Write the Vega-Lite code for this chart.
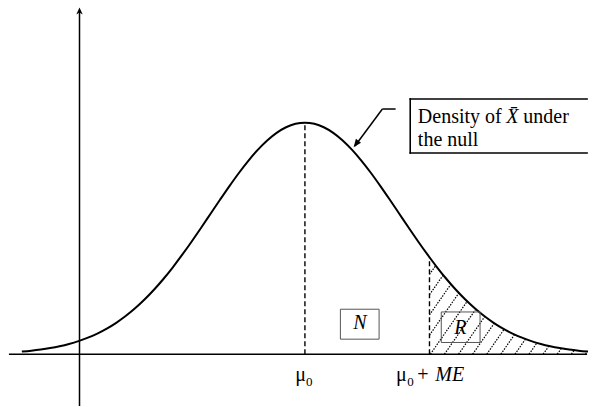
{
  "$schema": "https://vega.github.io/schema/vega-lite/v6.json",
  "width": 592,
  "height": 407,
  "padding": 0,
  "autosize": {"type": "fit", "contains": "padding"},
  "background": "white",
  "config": {"view": {"stroke": null}},
  "datasets": {
    "curve": [
      {"x": -3.0, "y": 0.00443}, {"x": -2.9, "y": 0.00595}, {"x": -2.8, "y": 0.00792}, {"x": -2.7, "y": 0.01042},
      {"x": -2.6, "y": 0.01358}, {"x": -2.5, "y": 0.01753}, {"x": -2.4, "y": 0.02239}, {"x": -2.3, "y": 0.02833},
      {"x": -2.2, "y": 0.03547}, {"x": -2.1, "y": 0.04398}, {"x": -2.0, "y": 0.05399}, {"x": -1.9, "y": 0.06562},
      {"x": -1.8, "y": 0.07895}, {"x": -1.7, "y": 0.09405}, {"x": -1.6, "y": 0.11092}, {"x": -1.5, "y": 0.12952},
      {"x": -1.4, "y": 0.14973}, {"x": -1.3, "y": 0.17137}, {"x": -1.2, "y": 0.19419}, {"x": -1.1, "y": 0.21785},
      {"x": -1.0, "y": 0.24197}, {"x": -0.9, "y": 0.26609}, {"x": -0.8, "y": 0.28969}, {"x": -0.7, "y": 0.31225},
      {"x": -0.6, "y": 0.33322}, {"x": -0.5, "y": 0.35207}, {"x": -0.4, "y": 0.36827}, {"x": -0.3, "y": 0.38139},
      {"x": -0.2, "y": 0.39104}, {"x": -0.1, "y": 0.39695}, {"x": 0.0, "y": 0.39894}, {"x": 0.1, "y": 0.39695},
      {"x": 0.2, "y": 0.39104}, {"x": 0.3, "y": 0.38139}, {"x": 0.4, "y": 0.36827}, {"x": 0.5, "y": 0.35207},
      {"x": 0.6, "y": 0.33322}, {"x": 0.7, "y": 0.31225}, {"x": 0.8, "y": 0.28969}, {"x": 0.9, "y": 0.26609},
      {"x": 1.0, "y": 0.24197}, {"x": 1.1, "y": 0.21785}, {"x": 1.2, "y": 0.19419}, {"x": 1.3, "y": 0.17137},
      {"x": 1.32, "y": 0.16694}, {"x": 1.4, "y": 0.14973}, {"x": 1.5, "y": 0.12952}, {"x": 1.6, "y": 0.11092},
      {"x": 1.7, "y": 0.09405}, {"x": 1.8, "y": 0.07895}, {"x": 1.9, "y": 0.06562}, {"x": 2.0, "y": 0.05399},
      {"x": 2.1, "y": 0.04398}, {"x": 2.2, "y": 0.03547}, {"x": 2.3, "y": 0.02833}, {"x": 2.4, "y": 0.02239},
      {"x": 2.5, "y": 0.01753}, {"x": 2.6, "y": 0.01358}, {"x": 2.7, "y": 0.01042}, {"x": 2.8, "y": 0.00792},
      {"x": 2.9, "y": 0.00595}, {"x": 3.0, "y": 0.00443}
    ],
    "hatch": [
      {"x": 1.32, "y": 0.1373, "x2": 1.4684, "y2": 0.1719},
      {"x": 1.32, "y": 0.1024, "x2": 1.6179, "y2": 0.1719},
      {"x": 1.32, "y": 0.0676, "x2": 1.7674, "y2": 0.1719},
      {"x": 1.32, "y": 0.0327, "x2": 1.9168, "y2": 0.1719},
      {"x": 1.3295, "y": 0, "x2": 2.0663, "y2": 0.1719},
      {"x": 1.4789, "y": 0, "x2": 2.2158, "y2": 0.1719},
      {"x": 1.6284, "y": 0, "x2": 2.3653, "y2": 0.1719},
      {"x": 1.7779, "y": 0, "x2": 2.5147, "y2": 0.1719},
      {"x": 1.9274, "y": 0, "x2": 2.6642, "y2": 0.1719},
      {"x": 2.0768, "y": 0, "x2": 2.8137, "y2": 0.1719},
      {"x": 2.2263, "y": 0, "x2": 2.9632, "y2": 0.1719},
      {"x": 2.3758, "y": 0, "x2": 3.0, "y2": 0.1456},
      {"x": 2.5253, "y": 0, "x2": 3.0, "y2": 0.1108},
      {"x": 2.6747, "y": 0, "x2": 3.0, "y2": 0.0759},
      {"x": 2.8242, "y": 0, "x2": 3.0, "y2": 0.0410},
      {"x": 2.9737, "y": 0, "x2": 3.0, "y2": 0.0061}
    ],
    "solid": [
      {"x": -3.137, "y": 0, "x2": 2.99, "y2": 0},
      {"x": -2.389, "y": -0.0894, "x2": -2.389, "y2": 0.59},
      {"x": 0.821, "y": 0.4225, "x2": 0.961, "y2": 0.4225},
      {"x": 0.821, "y": 0.4225, "x2": 0.53, "y2": 0.3587}
    ],
    "calloutBox": [
      {"x": 1.116, "y": 0.4397, "x2": 2.99, "y2": 0.4397},
      {"x": 1.116, "y": 0.3468, "x2": 2.99, "y2": 0.3468},
      {"x": 1.116, "y": 0.3468, "x2": 1.116, "y2": 0.4397}
    ],
    "dashed": [
      {"x": 0, "y": 0, "x2": 0, "y2": 0.3989},
      {"x": 1.32, "y": 0, "x2": 1.32, "y2": 0.1669}
    ],
    "regions": [
      {"x": 0.376, "y": 0.0258, "x2": 0.786, "y2": 0.0774},
      {"x": 1.445, "y": 0.0201, "x2": 1.856, "y2": 0.0727}
    ],
    "upArrow": [{"x": -2.389, "y": 0.5975}],
    "calloutArrow": [{"x": 0.516, "y": 0.3568}],
    "regularCenter": [
      {"x": -0.047, "y": -0.0469, "text": "μ"},
      {"x": 1.023, "y": -0.0469, "text": "μ"},
      {"x": 1.251, "y": -0.0469, "text": "+"}
    ],
    "subscripts": [
      {"x": 0.047, "y": -0.055, "text": "0"},
      {"x": 1.119, "y": -0.055, "text": "0"}
    ],
    "regularLeft": [
      {"x": 1.197, "y": 0.3984, "text": "Density of"},
      {"x": 2.314, "y": 0.3984, "text": "under"},
      {"x": 1.197, "y": 0.3582, "text": "the null"}
    ],
    "italicLeft": [
      {"x": 1.382, "y": -0.0469, "text": "ME"},
      {"x": 2.133, "y": 0.3984, "text": "X̄"}
    ],
    "italicCenter": [
      {"x": 0.582, "y": 0.043, "text": "N"},
      {"x": 1.646, "y": 0.0344, "text": "R"}
    ]
  },
  "encoding": {
    "x": {"field": "x", "type": "quantitative", "scale": {"domain": [-3.2316, 3.0], "nice": false, "zero": false}, "axis": null},
    "y": {"field": "y", "type": "quantitative", "scale": {"domain": [-0.0894, 0.6104], "nice": false, "zero": false}, "axis": null}
  },
  "layer": [
    {
      "data": {"name": "hatch"},
      "mark": {"type": "rule", "color": "black", "strokeWidth": 1.2, "strokeDash": [1.5, 1.3], "clip": true},
      "encoding": {"x2": {"field": "x2"}, "y2": {"field": "y2"}}
    },
    {
      "data": {"name": "curve"},
      "transform": [{"filter": "datum.x >= 1.32"}],
      "mark": {"type": "area", "color": "white", "interpolate": "monotone", "clip": true},
      "encoding": {"y2": {"datum": 0.18}}
    },
    {
      "data": {"name": "curve"},
      "mark": {"type": "line", "color": "black", "strokeWidth": 2, "interpolate": "monotone"},
      "encoding": {}
    },
    {
      "data": {"name": "dashed"},
      "mark": {"type": "rule", "color": "black", "strokeWidth": 1.4, "strokeDash": [5, 3]},
      "encoding": {"x2": {"field": "x2"}, "y2": {"field": "y2"}}
    },
    {
      "data": {"name": "solid"},
      "mark": {"type": "rule", "color": "black", "strokeWidth": 1.5},
      "encoding": {"x2": {"field": "x2"}, "y2": {"field": "y2"}}
    },
    {
      "data": {"name": "calloutBox"},
      "mark": {"type": "rule", "color": "black", "strokeWidth": 1.6, "strokeCap": "square"},
      "encoding": {"x2": {"field": "x2"}, "y2": {"field": "y2"}}
    },
    {
      "data": {"name": "upArrow"},
      "mark": {"type": "point", "shape": "M0,0L-0.5,1.1L0,0.8L0.5,1.1Z", "filled": true, "color": "black", "size": 164, "opacity": 1},
      "encoding": {}
    },
    {
      "data": {"name": "calloutArrow"},
      "mark": {"type": "point", "shape": "M0,0L-0.4,1L0.4,1Z", "filled": true, "color": "black", "size": 256, "angle": 217.2, "opacity": 1},
      "encoding": {}
    },
    {
      "data": {"name": "regions"},
      "mark": {"type": "rect", "fill": null, "stroke": "#555555", "strokeWidth": 1},
      "encoding": {"x2": {"field": "x2"}, "y2": {"field": "y2"}}
    },
    {
      "data": {"name": "regularCenter"},
      "mark": {"type": "text", "font": "Liberation Serif", "color": "black", "fontSize": 20, "align": "center", "baseline": "alphabetic"},
      "encoding": {"text": {"field": "text"}}
    },
    {
      "data": {"name": "subscripts"},
      "mark": {"type": "text", "font": "Liberation Serif", "color": "black", "fontSize": 13, "align": "center", "baseline": "alphabetic"},
      "encoding": {"text": {"field": "text"}}
    },
    {
      "data": {"name": "regularLeft"},
      "mark": {"type": "text", "font": "Liberation Serif", "color": "black", "fontSize": 20, "align": "left", "baseline": "alphabetic"},
      "encoding": {"text": {"field": "text"}}
    },
    {
      "data": {"name": "italicLeft"},
      "mark": {"type": "text", "font": "Liberation Serif", "color": "black", "fontSize": 20, "fontStyle": "italic", "align": "left", "baseline": "alphabetic"},
      "encoding": {"text": {"field": "text"}}
    },
    {
      "data": {"name": "italicCenter"},
      "mark": {"type": "text", "font": "Liberation Serif", "color": "black", "fontSize": 20, "fontStyle": "italic", "align": "center", "baseline": "alphabetic"},
      "encoding": {"text": {"field": "text"}}
    }
  ]
}
